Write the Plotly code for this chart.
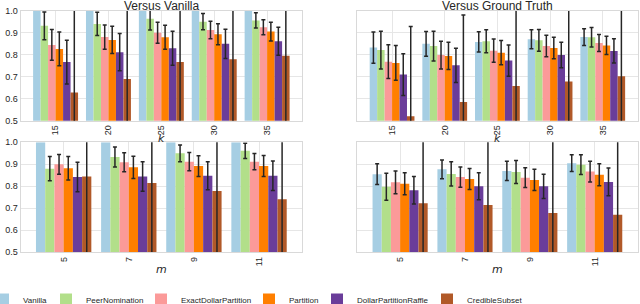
import plotly.graph_objects as go

methods = ["Vanilla", "PeerNomination", "ExactDollarPartition", "Partition",
           "DollarPartitionRaffle", "CredibleSubset"]
colors = ["#a6cee3", "#b2df8a", "#fb9a99", "#ff7f00", "#6a3d9a", "#b15928"]

k_labels = ["15", "20", "25", "30", "35"]
m_labels = ["5", "7", "9", "11"]

# Versus Vanilla, varying k
vv_k_mean = {
    "Vanilla": [1.0, 1.0, 1.0, 1.0, 1.0],
    "PeerNomination": [0.932, 0.941, 0.964, 0.951, 0.957],
    "ExactDollarPartition": [0.845, 0.881, 0.901, 0.913, 0.926],
    "Partition": [0.827, 0.868, 0.880, 0.894, 0.906],
    "DollarPartitionRaffle": [0.767, 0.812, 0.830, 0.850, 0.862],
    "CredibleSubset": [0.628, 0.690, 0.767, 0.780, 0.796],
}
vv_k_err = {
    "Vanilla": [0, 0, 0, 0, 0],
    "PeerNomination": [0.063, 0.053, 0.051, 0.037, 0.035],
    "ExactDollarPartition": [0.070, 0.055, 0.048, 0.040, 0.034],
    "Partition": [0.077, 0.062, 0.055, 0.048, 0.043],
    "DollarPartitionRaffle": [0.100, 0.085, 0.077, 0.067, 0.064],
    "CredibleSubset": [0.42, 0.41, 0.40, 0.39, 0.38],
}

# Versus Ground Truth, varying k
gt_k_mean = {
    "Vanilla": [0.833, 0.850, 0.859, 0.871, 0.881],
    "PeerNomination": [0.822, 0.840, 0.862, 0.866, 0.880],
    "ExactDollarPartition": [0.769, 0.799, 0.819, 0.840, 0.854],
    "Partition": [0.763, 0.795, 0.810, 0.831, 0.843],
    "DollarPartitionRaffle": [0.710, 0.752, 0.774, 0.799, 0.818],
    "CredibleSubset": [0.520, 0.585, 0.658, 0.679, 0.702],
}
gt_k_err = {
    "Vanilla": [0.071, 0.056, 0.046, 0.043, 0.038],
    "PeerNomination": [0.086, 0.068, 0.052, 0.050, 0.044],
    "ExactDollarPartition": [0.077, 0.063, 0.053, 0.049, 0.039],
    "Partition": [0.079, 0.062, 0.055, 0.049, 0.042],
    "DollarPartitionRaffle": [0.095, 0.078, 0.071, 0.058, 0.055],
    "CredibleSubset": [0.409, 0.397, 0.38, 0.37, 0.36],
}

# Versus Vanilla, varying m
vv_m_mean = {
    "Vanilla": [1.0, 1.0, 1.0, 1.0],
    "PeerNomination": [0.880, 0.933, 0.950, 0.961],
    "ExactDollarPartition": [0.900, 0.909, 0.912, 0.912],
    "Partition": [0.882, 0.886, 0.892, 0.892],
    "DollarPartitionRaffle": [0.842, 0.845, 0.848, 0.848],
    "CredibleSubset": [0.845, 0.815, 0.779, 0.741],
}
vv_m_err = {
    "Vanilla": [0, 0, 0, 0],
    "PeerNomination": [0.055, 0.045, 0.038, 0.035],
    "ExactDollarPartition": [0.045, 0.043, 0.041, 0.037],
    "Partition": [0.053, 0.051, 0.047, 0.048],
    "DollarPartitionRaffle": [0.067, 0.067, 0.064, 0.067],
    "CredibleSubset": [0.40, 0.40, 0.40, 0.40],
}

# Versus Ground Truth, varying m
gt_m_mean = {
    "Vanilla": [0.855, 0.877, 0.870, 0.905],
    "PeerNomination": [0.798, 0.856, 0.865, 0.898],
    "ExactDollarPartition": [0.818, 0.842, 0.839, 0.867],
    "Partition": [0.812, 0.833, 0.829, 0.852],
    "DollarPartitionRaffle": [0.782, 0.800, 0.800, 0.820],
    "CredibleSubset": [0.723, 0.715, 0.679, 0.671],
}
gt_m_err = {
    "Vanilla": [0.047, 0.043, 0.044, 0.038],
    "PeerNomination": [0.061, 0.055, 0.052, 0.045],
    "ExactDollarPartition": [0.052, 0.046, 0.045, 0.047],
    "Partition": [0.050, 0.048, 0.048, 0.050],
    "DollarPartitionRaffle": [0.062, 0.061, 0.055, 0.063],
    "CredibleSubset": [0.40, 0.40, 0.40, 0.40],
}

panels = [
    ("x", "y", k_labels, vv_k_mean, vv_k_err, True),
    ("x2", "y2", k_labels, gt_k_mean, gt_k_err, False),
    ("x3", "y3", m_labels, vv_m_mean, vv_m_err, False),
    ("x4", "y4", m_labels, gt_m_mean, gt_m_err, False),
]

legend_ids = ["legend", "legend2", "legend3", "legend4", "legend5", "legend6"]

fig = go.Figure()
for xa, ya, cats, means, errs, show in panels:
    for name, col, lg in zip(methods, colors, legend_ids):
        e = errs[name]
        fig.add_trace(go.Bar(
            x=cats, y=means[name], name=name, legendgroup=name, legend=lg,
            showlegend=show, xaxis=xa, yaxis=ya,
            marker=dict(color=col, line=dict(width=0)),
            error_y=dict(type="data", array=e, visible=any(v > 0 for v in e),
                         color="#262626", thickness=1.5, width=2),
        ))

font_fam = "Liberation Sans, Arial, sans-serif"
grid = "#e6e6e6"
frame = "#d9d9d9"

xl = [0.0323, 0.4719]
xr = [0.5583, 0.9961]
yt = [0.603, 0.964]
yb = [0.170, 0.532]

def xax(domain, anchor, n):
    return dict(domain=domain, anchor=anchor, type="category",
                range=[-0.66, n - 1 + 0.66], showgrid=True, gridcolor=grid,
                gridwidth=1, showline=True, mirror=True, linecolor=frame,
                linewidth=1, ticks="", tickangle=-90,
                tickfont=dict(size=9, color="#262626", family=font_fam),
                zeroline=False)

def yax(domain, anchor, labels):
    return dict(domain=domain, anchor=anchor, range=[0.5, 1.0], dtick=0.1,
                tick0=0.5, tickformat=".1f", showgrid=True, gridcolor=grid,
                gridwidth=1, showline=True, mirror=True, linecolor=frame,
                linewidth=1, ticks="", showticklabels=labels,
                tickfont=dict(size=9, color="#262626", family=font_fam),
                zeroline=False)

# text start (px) of each legend entry in the reference
legend_text_px = [23, 86, 181, 289, 357, 467]
legend_layout = {}
for lg, tx in zip(legend_ids, legend_text_px):
    legend_layout[lg] = dict(orientation="h", x=(tx - 40) / 640, xanchor="left",
                             y=1 - 299.5 / 304, yanchor="middle",
                             font=dict(size=8, family=font_fam, color="#262626"),
                             bgcolor="rgba(0,0,0,0)", itemclick=False)

def label(text, x, ypx, size, fam, italic=False):
    return dict(text=("<i>%s</i>" % text) if italic else text, x=x,
                y=1 - ypx / 304, xref="paper", yref="paper",
                xanchor="center", yanchor="middle", showarrow=False,
                font=dict(size=size, family=fam, color="#262626"))

fig.update_layout(
    width=640, height=304,
    margin=dict(l=0, r=0, t=0, b=0, autoexpand=False),
    paper_bgcolor="white", plot_bgcolor="white",
    barmode="group", bargap=0.15, bargroupgap=0,
    font=dict(family=font_fam, color="#262626"),
    xaxis=xax(xl, "y", 5),
    xaxis2=xax(xr, "y2", 5),
    xaxis3=xax(xl, "y3", 4),
    xaxis4=xax(xr, "y4", 4),
    yaxis=yax(yt, "x", True),
    yaxis2=yax(yt, "x2", False),
    yaxis3=yax(yb, "x3", True),
    yaxis4=yax(yb, "x4", False),
    annotations=[
        label("Versus Vanilla", sum(xl) / 2, 6, 12, font_fam),
        label("Versus Ground Truth", sum(xr) / 2, 6, 12, font_fam),
        label("k", sum(xl) / 2, 138, 11, "DejaVu Sans", True),
        label("k", sum(xr) / 2, 138, 11, "DejaVu Sans", True),
        label("m", sum(xl) / 2, 269.5, 11, "DejaVu Sans", True),
        label("m", sum(xr) / 2, 269.5, 11, "DejaVu Sans", True),
    ],
    **legend_layout,
)

fig.write_html("out.html",
               config={"displayModeBar": False},
               post_script="document.body.style.margin='0';"
                           "document.body.style.padding='0';")
